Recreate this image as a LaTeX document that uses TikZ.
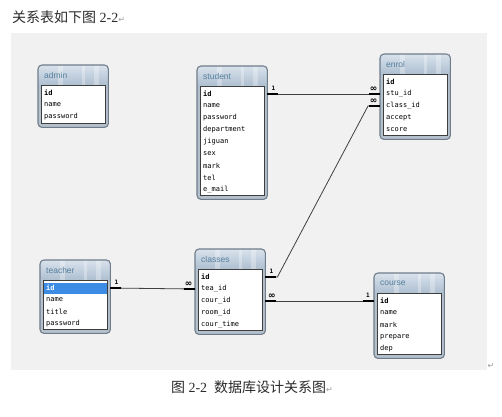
\documentclass[tikz,border=0pt]{standalone}
\usepackage{fontspec}
\setmainfont{Liberation Serif}
\newfontfamily\cjk{Noto Sans CJK SC}
\newfontfamily\monof{DejaVu Sans Mono}
\newfontfamily\ttlf{Liberation Sans}
\newfontfamily\symf{DejaVu Sans}
\definecolor{bgcol}{HTML}{F1F1F1}
\definecolor{framecol}{HTML}{B4C0CC}
\definecolor{bordercol}{HTML}{6F7C8A}
\definecolor{hdtop}{HTML}{D8E2EC}
\definecolor{hdbot}{HTML}{AEBFD1}
\definecolor{panelcol}{HTML}{3E3E3E}
\definecolor{ttlcol}{HTML}{567F9C}
\definecolor{hlcol}{HTML}{3C8CE6}
\definecolor{conncol}{HTML}{404040}
\definecolor{txtcol}{HTML}{2B2B2B}
\definecolor{retcol}{HTML}{9A9A9A}
\tikzset{
  tblbox/.style={fill=framecol, draw=none, inner sep=0pt, rounded corners=4pt},
  tblborder/.style={draw=bordercol, line width=1.1pt, rounded corners=4pt},
  panel/.style={fill=white, draw=panelcol, line width=0.7pt},
  ttl/.style={font=\ttlf\fontsize{8.5}{9}\selectfont, text=ttlcol, inner sep=0pt, anchor=west},
  rowtxt/.style={font=\monof\fontsize{7}{7}\selectfont, text=black, inner xsep=2.5pt, inner ysep=0pt, minimum height=11pt, text width=58pt, align=left, anchor=west},
  hlrow/.style={fill=hlcol, text=white},
  conn/.style={draw=conncol, line width=0.8pt},
  stub/.style={draw=black, line width=2.2pt},
  onelab/.style={font=\monof\bfseries\fontsize{6}{6}\selectfont, inner sep=0pt},
  manylab/.style={font=\symf\bfseries\fontsize{9}{9}\selectfont, inner sep=0pt},
  streak/.style={fill=white, opacity=0.3},
}
% #1 first-row style, #2 name, #3 left, #4 top, #5 width, #6 height, #7 title, #8 rows
\newcommand\ertab[8][]{%
  \node[tblbox, minimum width=#5pt, minimum height=#6pt, anchor=north west] (#2) at (#3,#4) {};
  \begin{scope}
    \clip[rounded corners=4pt] (#2.north west) rectangle (#2.south east);
    \shade[top color=hdtop, bottom color=hdbot] (#2.north west) rectangle ([yshift=-20pt]#2.north east);
    \fill[streak] ([xshift=20pt]#2.north west) rectangle ([xshift=25pt,yshift=-20pt]#2.north west);
    \fill[streak] ([xshift=44pt]#2.north west) rectangle ([xshift=47pt,yshift=-20pt]#2.north west);
    \fill[streak] ([xshift=56pt]#2.north west) rectangle ([xshift=61pt,yshift=-20pt]#2.north west);
  \end{scope}
  \draw[tblborder] (#2.north west) rectangle (#2.south east);
  \draw[panel] ([xshift=3pt,yshift=-20pt]#2.north west) rectangle ([xshift=-3pt,yshift=4pt]#2.south east);
  \node[ttl] (#2-title) at ([xshift=6pt,yshift=-10.5pt]#2.north west) {#7};
  \foreach \t [count=\i] in {#8} {
    \pgfmathsetmacro\ry{-28-12*(\i-1)}
    \ifnum\i=1
      \node[rowtxt,#1] (#2-\i) at ([xshift=3.5pt,yshift=\ry pt]#2.north west) {\bfseries\t};
    \else
      \node[rowtxt] (#2-\i) at ([xshift=3.5pt,yshift=\ry pt]#2.north west) {\t};
    \fi
  }
}
\begin{document}
\begin{tikzpicture}[x=1pt,y=-1pt]
\useasboundingbox (0,0) rectangle (502,416);
\fill[white] (0,0) rectangle (502,416);
\fill[bgcol] (11,33) rectangle (487,370);

\node[anchor=west, inner sep=0pt, text=txtcol] (head) at (12,17)
  {\fontsize{14}{14}\selectfont{\cjk 关系表如下图} 2-2{\symf\fontsize{8}{8}\selectfont\color{retcol}↵}};

\ertab{admin}{38}{65}{70}{62}{admin}{id,name,password}
\ertab{student}{197}{66}{70}{133}{student}{id,name,password,department,jiguan,sex,mark,tel,e\_mail}
\ertab{enrol}{380}{54}{70}{85}{enrol}{id,stu\_id,class\_id,accept,score}
\ertab[hlrow]{teacher}{40}{260}{70}{73}{teacher}{id,name,title,password}
\ertab{classes}{195}{249}{70}{85}{classes}{id,tea\_id,cour\_id,room\_id,cour\_time}
\ertab{course}{374}{273}{70}{85}{course}{id,name,mark,prepare,dep}

\coordinate (sE1) at (student.east |- student-1);
\coordinate (eW2) at (enrol.west |- enrol-2);
\coordinate (eW3) at (enrol.west |- enrol-3);
\coordinate (cE1) at (classes.east |- classes-1);
\coordinate (cE3) at (classes.east |- classes-3);
\coordinate (cW2) at (classes.west |- classes-2);
\coordinate (tE1) at (teacher.east |- teacher-1);
\coordinate (oW1) at (course.west |- course-1);

\draw[conn] (sE1) -- (eW2);
\draw[conn] (cE1) -- ++(12,0) -- ([xshift=-12pt]eW3) -- (eW3);
\draw[conn] (tE1) -- (cW2);
\draw[conn] (cE3) -- (oW1);

\draw[stub] (sE1) -- ++(11,0);
\draw[stub] (eW2) -- ++(-11,0);
\draw[stub] (cE1) -- ++(11,0);
\draw[stub] (eW3) -- ++(-11,0);
\draw[stub] (tE1) -- ++(11,0);
\draw[stub] (cW2) -- ++(-11,0);
\draw[stub] (cE3) -- ++(11,0);
\draw[stub] (oW1) -- ++(-11,0);

\node[onelab] (l1) at ([xshift=6pt,yshift=5.5pt]sE1) {1};
\node[manylab] (l2) at ([xshift=-6.5pt,yshift=5pt]eW2) {∞};
\node[onelab] (l3) at ([xshift=6pt,yshift=5.5pt]cE1) {1};
\node[manylab] (l4) at ([xshift=-6.5pt,yshift=5pt]eW3) {∞};
\node[onelab] (l5) at ([xshift=6pt,yshift=5.5pt]tE1) {1};
\node[manylab] (l6) at ([xshift=-6.5pt,yshift=5pt]cW2) {∞};
\node[manylab] (l7) at ([xshift=6.5pt,yshift=5pt]cE3) {∞};
\node[onelab] (l8) at ([xshift=-6pt,yshift=5.5pt]oW1) {1};

\node[inner sep=0pt, text=txtcol] (cap) at (252,387)
  {\fontsize{14}{14}\selectfont{\cjk 图} 2-2\hspace{7pt}{\cjk 数据库设计关系图}{\symf\fontsize{8}{8}\selectfont\color{retcol}↵}};
\node[inner sep=0pt, text=retcol, font=\symf\fontsize{8}{8}\selectfont] (ret) at (491,366) {↵};
\end{tikzpicture}
\end{document}
